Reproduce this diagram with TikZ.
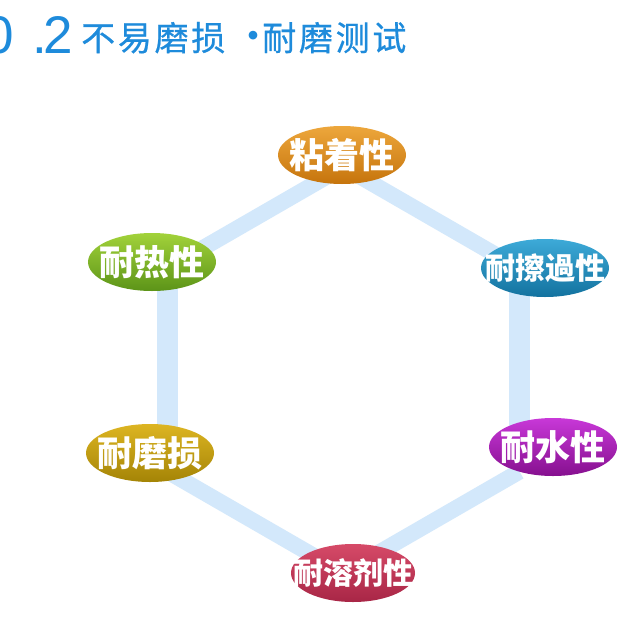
\documentclass[tikz,border=0pt]{standalone}
\usepackage{fontspec}
\setmainfont{Liberation Sans}
\newfontfamily\cjk{Noto Sans CJK SC}
\newfontfamily\cjkt{Noto Sans CJK SC}[LetterSpace=8,FakeBold=0.6]
\usetikzlibrary{shapes.geometric}
\definecolor{titleblue}{HTML}{1E8BDB}
\definecolor{hexblue}{HTML}{D3E8FB}
\definecolor{orT}{HTML}{EDA73C}\definecolor{orB}{HTML}{C6740C}
\definecolor{grT}{HTML}{A2D23A}\definecolor{grB}{HTML}{5C9418}
\definecolor{blT}{HTML}{3DAAD8}\definecolor{blB}{HTML}{13729F}
\definecolor{goT}{HTML}{DDB522}\definecolor{goB}{HTML}{A48406}
\definecolor{puT}{HTML}{C838D8}\definecolor{puB}{HTML}{86108F}
\definecolor{reT}{HTML}{D64A68}\definecolor{reB}{HTML}{A82646}
\tikzset{
  badge/.style 2 args={ellipse, inner sep=0pt, minimum width=128pt, minimum height=58pt,
    top color=#1, bottom color=#2, shading angle=0},
  btext/.style={inner sep=0pt, text=white, font=\cjk\bfseries\fontsize{35}{35}\selectfont},
  btextfour/.style={btext, font=\cjk\bfseries\fontsize{30}{30}\selectfont},
  edgev/.style={draw=hexblue, line width=21pt},
  edged/.style={draw=hexblue, line width=16pt},
  ttl/.style={inner sep=0pt, text=titleblue},
  digit/.style={ttl, font=\fontsize{53}{53}\selectfont},
}
\begin{document}
\begin{tikzpicture}[x=1pt,y=-1pt]
\useasboundingbox (0,0) rectangle (642,642);
\fill[white] (0,0) rectangle (642,642);
% title
\node[digit, anchor=base east] (zero) at (14,53) {0};
\node[digit, anchor=base] (dot) at (40,53) {.};
\node[digit, anchor=base east] (two) at (73,53) {2};
\node[ttl, anchor=base west, font=\cjkt\fontsize{34}{34}\selectfont] (title1) at (81,50.5) {不易磨损};
\node[ttl, anchor=center, font=\bfseries\fontsize{30}{30}\selectfont] (bullet) at (253,38) {•};
\node[ttl, anchor=base west, font=\cjkt\fontsize{34}{34}\selectfont] (title2) at (262,50.5) {耐磨测试};
% hexagon vertices
\coordinate (vt) at (343.5,167);
\coordinate (vur) at (519.5,268.5);
\coordinate (vlr) at (519.5,471.5);
\coordinate (vb) at (343.5,573);
\coordinate (vll) at (167.5,471.5);
\coordinate (vul) at (167.5,268.5);
\draw[edged] (vt) -- (vur);
\draw[edgev] (vur) -- (vlr);
\draw[edged] (vlr) -- (vb);
\draw[edged] (vb) -- (vll);
\draw[edgev] (vll) -- (vul);
\draw[edged] (vul) -- (vt);
% badges
\node[badge={orT}{orB}] (a) at (342,155) {};
\node[btext] (at) at (a.center) {粘着性};
\node[badge={grT}{grB}] (b) at (152,262) {};
\node[btext] (bt) at (b.center) {耐热性};
\node[badge={blT}{blB}] (c) at (545,268) {};
\node[btextfour] (ct) at (c.center) {耐擦過性};
\node[badge={goT}{goB}] (d) at (150,453) {};
\node[btext] (dt) at (d.center) {耐磨损};
\node[badge={puT}{puB}] (e) at (553,447) {};
\node[btext] (et) at (e.center) {耐水性};
\node[badge={reT}{reB}, minimum width=124pt] (f) at (353,573) {};
\node[btextfour] (ft) at (f.center) {耐溶剂性};
\end{tikzpicture}
\end{document}
